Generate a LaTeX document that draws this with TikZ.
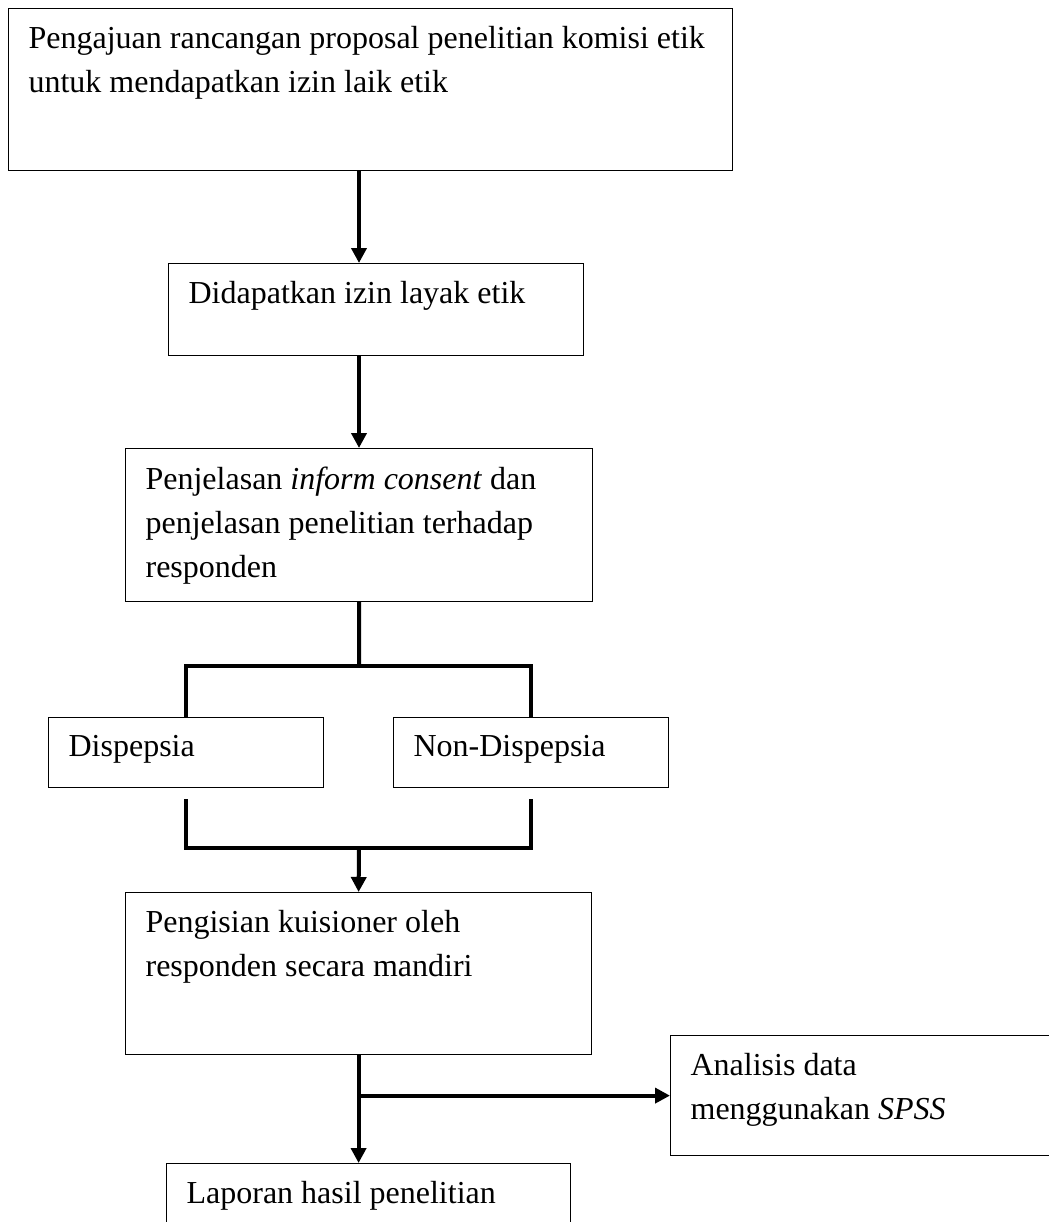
\documentclass[tikz,border=0pt]{standalone}
\usepackage{fontspec}
\setmainfont{Liberation Serif}
\usetikzlibrary{arrows.meta}
\newcommand{\boxtext}[3]{\parbox[c][#2][t]{#1}{\raggedright #3}}

\begin{document}
\begin{tikzpicture}[
  x=0.5pt, y=-0.5pt,
  font=\fontsize{16}{22}\selectfont,
  box/.style={draw, line width=0.6pt, anchor=north west, inner xsep=10pt, inner ysep=9pt},
  link/.style={line width=2pt},
  arrow/.style={link, -{Triangle[length=7.5pt, width=7.5pt]}}
]
\clip (0,0) rectangle (1049,1222);

% Boxes
\node[box] (prop) at (8,8) {\boxtext{342pt}{63pt}{Pengajuan rancangan proposal penelitian komisi etik\\ untuk mendapatkan izin laik etik}};
\node[box] (izin) at (168,263) {\boxtext{187.5pt}{28pt}{Didapatkan izin layak etik}};
\node[box] (info) at (125,448) {\boxtext{213.5pt}{58.5pt}{Penjelasan \textit{inform consent} dan\\ penjelasan penelitian terhadap\\ responden}};
\node[box] (disp) at (48,717) {\boxtext{117.5pt}{17pt}{Dispepsia}};
\node[box] (nondisp) at (393,717) {\boxtext{117.5pt}{17pt}{Non-Dispepsia}};
\node[box] (kuis) at (125,892) {\boxtext{213pt}{63pt}{Pengisian kuisioner oleh\\ responden secara mandiri}};
\node[box] (spss) at (670,1035) {\boxtext{171.5pt}{42pt}{Analisis data\\ menggunakan \textit{SPSS}}};
\node[box] (lap) at (166,1163) {\boxtext{182pt}{62pt}{Laporan hasil penelitian}};

% Junctions
\coordinate (trunk) at (359,0);
\coordinate (split) at (359,666);
\coordinate (merge) at (359,848);

% Arrows
\draw[arrow] (prop.south -| trunk) -- (izin.north -| trunk);
\draw[arrow] (izin.south -| trunk) -- (info.north -| trunk);
\draw[link] (info.south) -- (split);
\draw[link] (disp.north) |- (split) -| (nondisp.north);
\draw[link] ([yshift=-5.5pt]disp.south) |- (merge) -| ([yshift=-5.5pt]nondisp.south);
\draw[arrow] (merge) -- (kuis.north);
\draw[arrow] (kuis.south) -- (kuis.south |- lap.north);
\draw[arrow] (kuis.south |- spss.west) -- (spss.west);

\end{tikzpicture}
\end{document}
